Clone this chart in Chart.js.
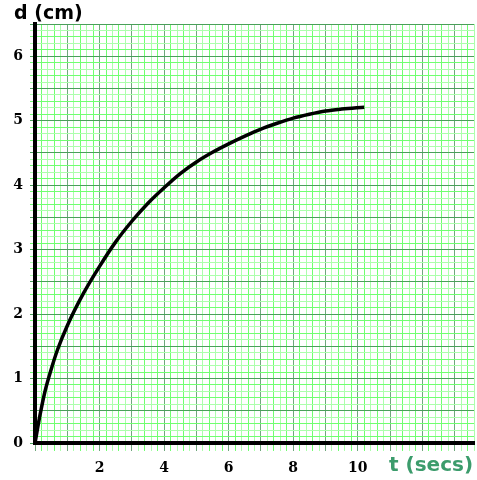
<!DOCTYPE html>
<html lang="en">
<head>
    <meta charset="UTF-8">
    <title>Distance vs time</title>
    <script src="https://cdn.jsdelivr.net/npm/chart.js"></script>
    <style>
        body {
            margin: 0;
            background: #fff;
        }
        #wrap {
            position: relative;
            width: 477px;
            height: 480px;
        }
        .axis-title {
            position: absolute;
            font-family: "DejaVu Sans", sans-serif;
            font-weight: bold;
            white-space: nowrap;
        }
        #yTitle {
            left: 14px;
            top: 3px;
            font-size: 19px;
            line-height: 19px;
            color: #000;
        }
        #xTitle {
            left: 389px;
            top: 454px;
            font-size: 20px;
            line-height: 20px;
            color: #3c9c6c;
        }
    </style>
</head>
<body>

<div id="wrap">
    <canvas id="distChart" width="477" height="480"></canvas>
    <div class="axis-title" id="yTitle">d (cm)</div>
    <div class="axis-title" id="xTitle">t (secs)</div>
</div>

<script>
    // values
    const times = [0, 0.15, 0.3, 0.5, 0.7, 1.0, 1.5, 2.0, 2.5, 3.0, 3.5, 4.0, 4.5, 5.0, 5.5, 6.0, 6.5, 7.0, 7.5, 8.0, 8.5, 9.0, 9.5, 10.2];
    const distances = [0, 0.42, 0.78, 1.14, 1.45, 1.82, 2.32, 2.74, 3.12, 3.44, 3.72, 3.96, 4.18, 4.36, 4.51, 4.64, 4.76, 4.87, 4.96, 5.04, 5.10, 5.15, 5.18, 5.21];

    const xTickLabels = [2, 4, 6, 8, 10];
    const yTickLabels = [0, 1, 2, 3, 4, 5, 6];

    const majorX = '#6fa87c';
    const majorY = '#4a9f5a';
    const minorBright = '#70ff70';
    const minorPale = '#acffac';

    function xGridColor(ctx) {
        const v = Math.round(ctx.tick.value * 10);
        if (v % 10 === 0) return majorX;
        return (v / 2) % 2 === 1 ? minorBright : minorPale;
    }

    function yGridColor(ctx) {
        const v = Math.round(ctx.tick.value * 10);
        if (v % 5 === 0) return majorY;
        return v % 2 === 1 ? minorBright : minorPale;
    }

    const tickFont = { family: '"DejaVu Serif", serif', size: 14, weight: 'bold' };

    new Chart(document.getElementById('distChart').getContext('2d'), {
        type: 'scatter',
        data: {
            datasets: [{
                data: times.map((t, i) => ({ x: t, y: distances[i] })),
                showLine: true,
                borderColor: '#000',
                borderWidth: 3.5,
                pointRadius: 0,
                cubicInterpolationMode: 'monotone',
                fill: false
            }]
        },
        options: {
            responsive: false,
            animation: false,
            devicePixelRatio: 1,
            layout: { padding: { top: 24, right: 3, left: 0, bottom: 0 } },
            plugins: {
                legend: { display: false },
                tooltip: { enabled: false }
            },
            scales: {
                x: {
                    type: 'linear',
                    min: 0,
                    max: 13.6,
                    afterFit: scale => {
                        scale.height = 37;
                        scale.paddingLeft = 0;
                        scale.paddingRight = 0;
                    },
                    border: { display: true, color: '#000', width: 4 },
                    grid: {
                        color: xGridColor,
                        tickColor: xGridColor,
                        tickLength: 8,
                        lineWidth: 1
                    },
                    ticks: {
                        stepSize: 0.2,
                        autoSkip: false,
                        maxRotation: 0,
                        minRotation: 0,
                        padding: 9,
                        color: '#000',
                        font: tickFont,
                        callback: value => {
                            const r = Math.round(value * 10) / 10;
                            return xTickLabels.includes(r) ? String(r) : '';
                        }
                    }
                },
                y: {
                    type: 'linear',
                    min: 0,
                    max: 6.5,
                    afterFit: scale => { scale.width = 35; },
                    border: { display: true, color: '#000', width: 4 },
                    grid: {
                        color: yGridColor,
                        tickColor: yGridColor,
                        tickLength: 5,
                        lineWidth: 1
                    },
                    ticks: {
                        stepSize: 0.1,
                        autoSkip: false,
                        padding: 7,
                        color: '#000',
                        font: tickFont,
                        callback: value => {
                            const r = Math.round(value * 10) / 10;
                            return yTickLabels.includes(r) ? String(r) : '';
                        }
                    }
                }
            }
        }
    });
</script>

</body>
</html>
